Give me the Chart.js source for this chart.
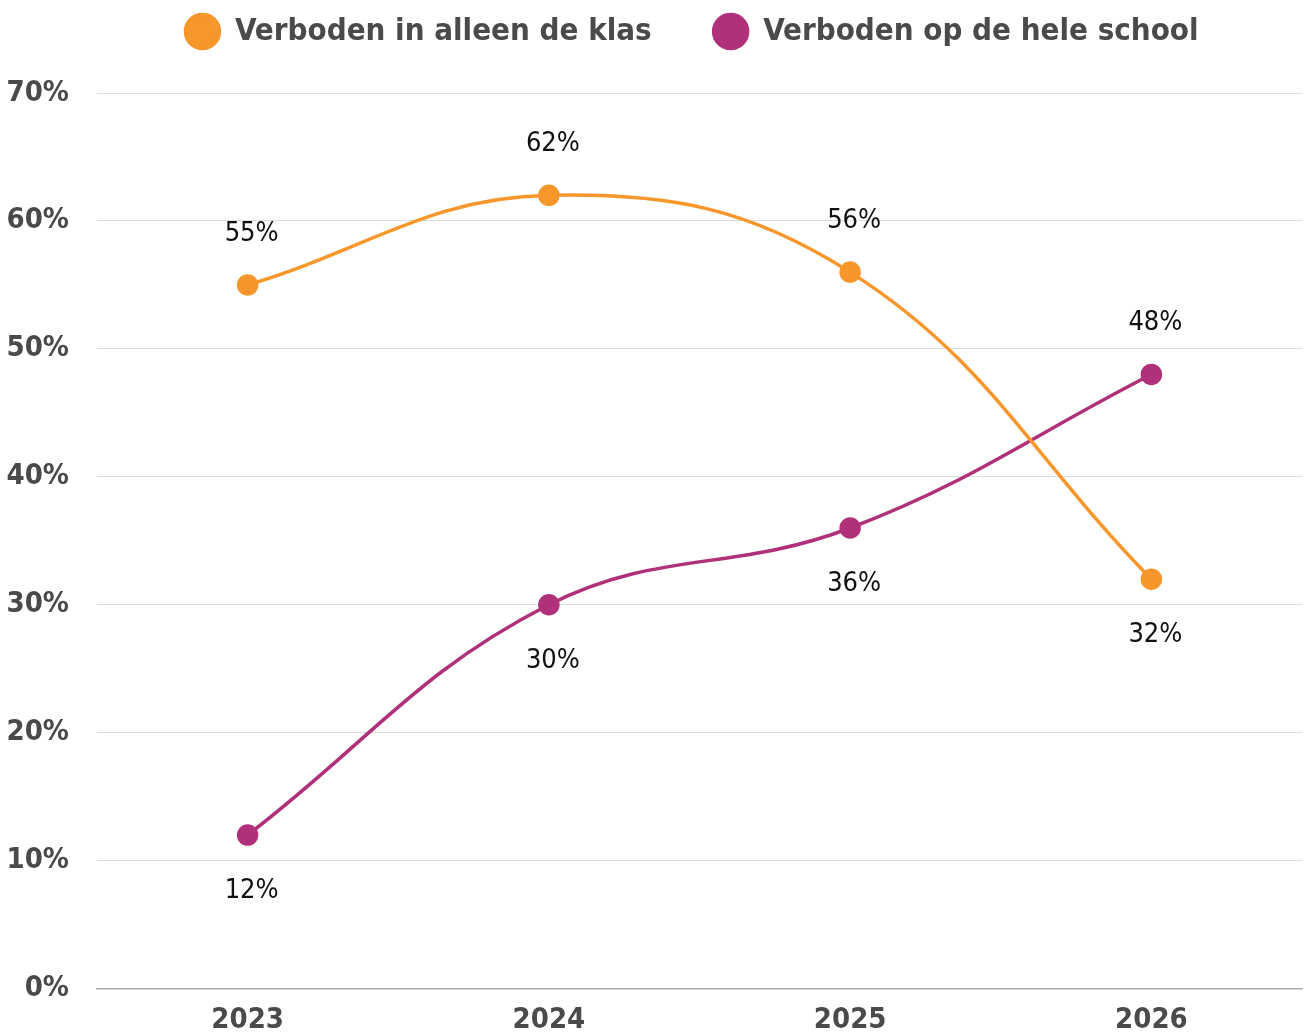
<!DOCTYPE html>
<html>
<head>
<meta charset="utf-8">
<script src="https://cdn.jsdelivr.net/npm/chart.js@4"></script>
<style>
  html, body { margin: 0; padding: 0; background: #fff; overflow: hidden; }
  canvas { display: block; }
</style>
</head>
<body>
<canvas id="chart" width="1304" height="1034"></canvas>
<script>
const years = ['2023', '2024', '2025', '2026'];
const klasValues = [55, 62, 56, 32];
const schoolValues = [12, 30, 36, 48];
// where the value label sits: 1 = above the point, -1 = below
const klasLabelSide = [1, 1, 1, -1];
const schoolLabelSide = [-1, -1, -1, 1];
const yTicks = [0, 10, 20, 30, 40, 50, 60, 70];

const fontFamily = '"DejaVu Sans Condensed", "DejaVu Sans", sans-serif';
const orange = '#F7962A';
const purple = '#B0307A';

const valueLabels = {
    id: 'valueLabels',
    afterDatasetsDraw(chart) {
        const ctx = chart.ctx;
        ctx.save();
        ctx.font = '27px ' + fontFamily;
        ctx.fillStyle = '#111';
        ctx.textAlign = 'center';
        ctx.textBaseline = 'middle';
        chart.data.datasets.forEach((ds, i) => {
            const meta = chart.getDatasetMeta(i);
            meta.data.forEach((pt, j) => {
                const y = ds.labelSide[j] > 0 ? pt.y - 51 : pt.y + 56;
                ctx.fillText(ds.data[j] + '%', pt.x + 4, y);
            });
        });
        ctx.restore();
    }
};

// nudge the legend up and a bit to the right, like the original
const legendShift = {
    id: 'legendShift',
    afterLayout(chart) {
        const lg = chart.legend;
        lg.top -= 36;
        lg.bottom -= 36;
        lg.left += 82;
    }
};

const chart = new Chart(document.getElementById('chart').getContext('2d'), {
    type: 'line',
    data: {
        labels: years,
        datasets: [{
            label: 'Verboden in alleen de klas',
            data: klasValues,
            labelSide: klasLabelSide,
            borderColor: orange,
            backgroundColor: orange,
            borderWidth: 3.5,
            pointRadius: 9,
            pointHoverRadius: 9,
            tension: 0.4
        }, {
            label: 'Verboden op de hele school',
            data: schoolValues,
            labelSide: schoolLabelSide,
            borderColor: purple,
            backgroundColor: purple,
            borderWidth: 3.5,
            pointRadius: 9,
            pointHoverRadius: 9,
            tension: 0.4
        }]
    },
    options: {
        responsive: false,
        animation: false,
        layout: { autoPadding: false, padding: { top: -10, right: 2, left: 0, bottom: -17.5 } },
        plugins: {
            tooltip: { enabled: false },
            legend: {
                position: 'top',
                labels: {
                    usePointStyle: true,
                    pointStyle: 'circle',
                    pointStyleWidth: 34,
                    boxHeight: 24,
                    padding: 62,
                    color: '#4a4a4a',
                    font: { family: fontFamily, size: 31, weight: 'bold' }
                }
            }
        },
        scales: {
            x: {
                offset: true,
                afterFit: (scale) => { scale.paddingLeft = 0; scale.paddingRight = 0; },
                grid: { display: false },
                border: { color: '#aaa', width: 1.5 },
                ticks: {
                    color: '#4a4a4a',
                    padding: 6,
                    font: { family: fontFamily, size: 29, weight: 'bold' }
                }
            },
            y: {
                min: 0,
                max: 70,
                afterBuildTicks: (scale) => { scale.ticks = yTicks.map(v => ({ value: v })); },
                afterFit: (scale) => { scale.width = 97; },
                grid: { color: '#ddd', lineWidth: 1, drawTicks: false },
                border: { display: false },
                ticks: {
                    color: '#4a4a4a',
                    padding: 28,
                    callback: (v) => v + '%',
                    font: { family: fontFamily, size: 29, weight: 'bold' }
                }
            }
        }
    },
    plugins: [valueLabels, legendShift]
});
</script>
</body>
</html>
